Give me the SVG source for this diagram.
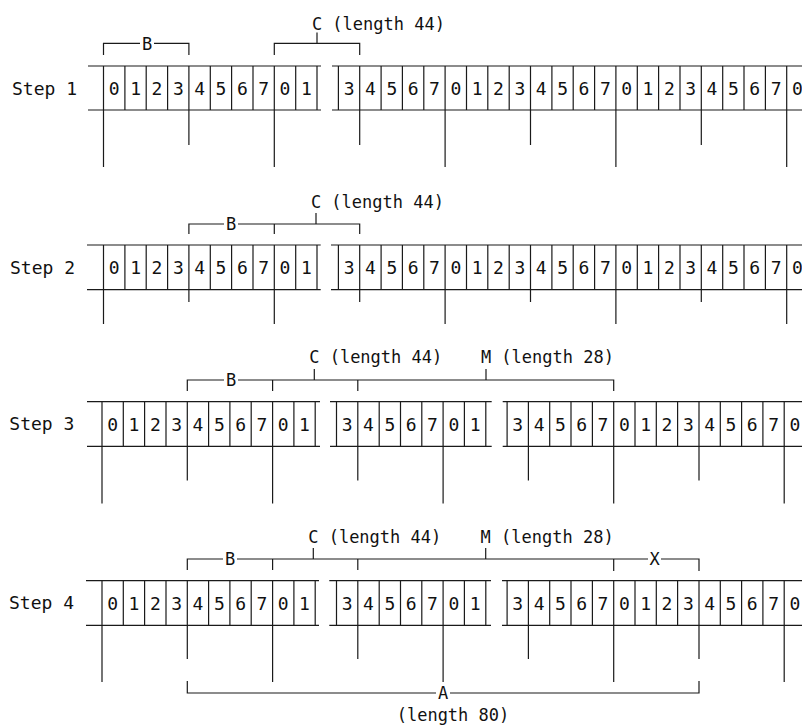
<svg xmlns="http://www.w3.org/2000/svg" width="802" height="727" viewBox="0 0 802 727">
<style>
.ln{stroke:#1a1a1a;stroke-width:1.2;fill:none}
.t{font-family:"DejaVu Sans Mono","Liberation Mono",monospace;font-size:17px;fill:#111}
.d{font-size:18px}
.m{text-anchor:middle}
</style>
<rect width="802" height="727" fill="#fff"/>
<g id="step1">
<text class="t d" x="12" y="95">Step 1</text>
<path class="ln" d="M88 66H321M88 110H321M332 66H802M332 110H802
M103.5 66V110M124.9 66V110M146.2 66V110M167.6 66V110M188.9 66V110M210.3 66V110M231.6 66V110M253 66V110M274.3 66V110M295.7 66V110M317 66V110
M338.4 66V110M359.7 66V110M381.1 66V110M402.4 66V110M423.8 66V110M445.1 66V110M466.5 66V110M487.8 66V110M509.2 66V110M530.5 66V110M551.9 66V110M573.2 66V110M594.6 66V110M615.9 66V110M637.3 66V110M658.6 66V110M680 66V110M701.3 66V110M722.7 66V110M744 66V110M765.4 66V110M786.7 66V110"/>
<text class="t d m" x="114.2 135.6 156.9 178.3 199.6 221 242.3 263.7 285 306.4" y="94.8">0123456701</text>
<text class="t d m" x="349.1 370.4 391.8 413.1 434.5 455.8 477.2 498.5 519.9 541.2 562.6 583.9 605.3 626.6 648 669.3 690.7 712 733.4 754.7 776.1 797.4" y="94.8">3456701234567012345670</text>
</g>
<g id="step2">
<text class="t d" x="10" y="274">Step 2</text>
<path class="ln" d="M87 245H320.7M87 289.7H320.7M331 245H802M331 289.7H802
M103.5 245V289.7M124.9 245V289.7M146.2 245V289.7M167.6 245V289.7M188.9 245V289.7M210.3 245V289.7M231.6 245V289.7M253 245V289.7M274.3 245V289.7M295.7 245V289.7M317 245V289.7
M338.4 245V289.7M359.7 245V289.7M381.1 245V289.7M402.4 245V289.7M423.8 245V289.7M445.1 245V289.7M466.5 245V289.7M487.8 245V289.7M509.2 245V289.7M530.5 245V289.7M551.9 245V289.7M573.2 245V289.7M594.6 245V289.7M615.9 245V289.7M637.3 245V289.7M658.6 245V289.7M680 245V289.7M701.3 245V289.7M722.7 245V289.7M744 245V289.7M765.4 245V289.7M786.7 245V289.7"/>
<text class="t d m" x="114.2 135.6 156.9 178.3 199.6 221 242.3 263.7 285 306.4" y="273.8">0123456701</text>
<text class="t d m" x="349.1 370.4 391.8 413.1 434.5 455.8 477.2 498.5 519.9 541.2 562.6 583.9 605.3 626.6 648 669.3 690.7 712 733.4 754.7 776.1 797.4" y="273.8">3456701234567012345670</text>
</g>
<g id="step3">
<text class="t d" x="9.3" y="430">Step 3</text>
<path class="ln" d="M87 401.7H320M87 446.3H320M330 401.7H491.7M330 446.3H491.7M502.7 401.7H802M502.7 446.3H802
M102 401.7V446.3M123.3 401.7V446.3M144.6 401.7V446.3M166 401.7V446.3M187.3 401.7V446.3M208.6 401.7V446.3M229.9 401.7V446.3M251.2 401.7V446.3M272.6 401.7V446.3M293.9 401.7V446.3M315.2 401.7V446.3
M336.5 401.7V446.3M357.8 401.7V446.3M379.2 401.7V446.3M400.5 401.7V446.3M421.8 401.7V446.3M443.1 401.7V446.3M464.4 401.7V446.3M485.8 401.7V446.3
M507.1 401.7V446.3M528.4 401.7V446.3M549.7 401.7V446.3M571 401.7V446.3M592.4 401.7V446.3M613.7 401.7V446.3M635 401.7V446.3M656.3 401.7V446.3M677.6 401.7V446.3M699 401.7V446.3M720.3 401.7V446.3M741.6 401.7V446.3M762.9 401.7V446.3M784.2 401.7V446.3"/>
<text class="t d m" x="112.7 134 155.3 176.6 198 219.3 240.6 261.9 283.2 304.5" y="430.5">0123456701</text>
<text class="t d m" x="347.2 368.5 389.8 411.1 432.5 453.8 475.1" y="430.5">3456701</text>
<text class="t d m" x="517.7 539.1 560.4 581.7 603 624.3 645.7 667 688.3 709.6 730.9 752.2 773.6 794.9" y="430.5">34567012345670</text>
</g>
<g id="step4">
<text class="t d" x="9" y="609">Step 4</text>
<path class="ln" d="M86 580.7H319M86 625.3H319M329.3 580.7H491M329.3 625.3H491M502 580.7H802M502 625.3H802
M102 580.7V625.3M123.3 580.7V625.3M144.6 580.7V625.3M166 580.7V625.3M187.3 580.7V625.3M208.6 580.7V625.3M229.9 580.7V625.3M251.2 580.7V625.3M272.6 580.7V625.3M293.9 580.7V625.3M315.2 580.7V625.3
M336.5 580.7V625.3M357.8 580.7V625.3M379.2 580.7V625.3M400.5 580.7V625.3M421.8 580.7V625.3M443.1 580.7V625.3M464.4 580.7V625.3M485.8 580.7V625.3
M507.1 580.7V625.3M528.4 580.7V625.3M549.7 580.7V625.3M571 580.7V625.3M592.4 580.7V625.3M613.7 580.7V625.3M635 580.7V625.3M656.3 580.7V625.3M677.6 580.7V625.3M699 580.7V625.3M720.3 580.7V625.3M741.6 580.7V625.3M762.9 580.7V625.3M784.2 580.7V625.3"/>
<text class="t d m" x="112.7 134 155.3 176.6 198 219.3 240.6 261.9 283.2 304.5" y="609.5">0123456701</text>
<text class="t d m" x="347.2 368.5 389.8 411.1 432.5 453.8 475.1" y="609.5">3456701</text>
<text class="t d m" x="517.7 539.1 560.4 581.7 603 624.3 645.7 667 688.3 709.6 730.9 752.2 773.6 794.9" y="609.5">34567012345670</text>
</g>
<g id="connectors">
<path class="ln" d="M103.5 110V167M188.9 110V145M274.3 110V167M359.7 110V145M445.1 110V167M530.5 110V145M615.9 110V167M701.3 110V145M786.7 110V167
M103.5 289.7V324M188.9 289.7V302M274.3 289.7V324M359.7 289.7V302M445.1 289.7V324M530.5 289.7V302M615.9 289.7V324M701.3 289.7V302M786.7 289.7V324
M102 446.3V503.5M187.3 446.3V480.5M272.6 446.3V503.5M357.8 446.3V480.5M443.1 446.3V503.5M528.4 446.3V480.5M613.7 446.3V503.5M699 446.3V480.5M784.2 446.3V503.5
M102 625.3V682M187.3 625.3V659M272.6 625.3V682M357.8 625.3V659M443.1 625.3V682M528.4 625.3V659M613.7 625.3V682M699 625.3V659M784.2 625.3V682"/>
<path class="ln" d="M103.5 55V43.3H140M154 43.3H188.9V55M274.3 55V43.3H359.7V55M317 43.3V32.5
M188.9 234V224H224M238 224H359.7V234M274.3 224V234M316 224V213
M187.3 391V380H224M238 380H613.7V391M272.6 380V391M357.8 380V391M314.3 380V369M486 380V369
M187.3 570V559H223M237 559H648M661 559H699V571M272.6 559V570M357.8 559V570M613.7 559V571M313.3 559V548M485.7 559V548
M187.3 681V693H436M450 693H699V681"/>
<text class="t m" x="147" y="49.5">B</text>
<text class="t" x="311.9" y="30">C (length 44)</text>
<text class="t m" x="231" y="230.2">B</text>
<text class="t" x="310.9" y="208">C (length 44)</text>
<text class="t m" x="231" y="386.2">B</text>
<text class="t" x="309.2" y="363.3">C (length 44)</text>
<text class="t" x="480.9" y="363.3">M (length 28)</text>
<text class="t m" x="230" y="565.2">B</text>
<text class="t m" x="654.5" y="565.2">X</text>
<text class="t" x="308.2" y="543.3">C (length 44)</text>
<text class="t" x="480.6" y="543.3">M (length 28)</text>
<text class="t m" x="443" y="699.2">A</text>
<text class="t" x="396.7" y="721">(length 80)</text>
</g>
</svg>
